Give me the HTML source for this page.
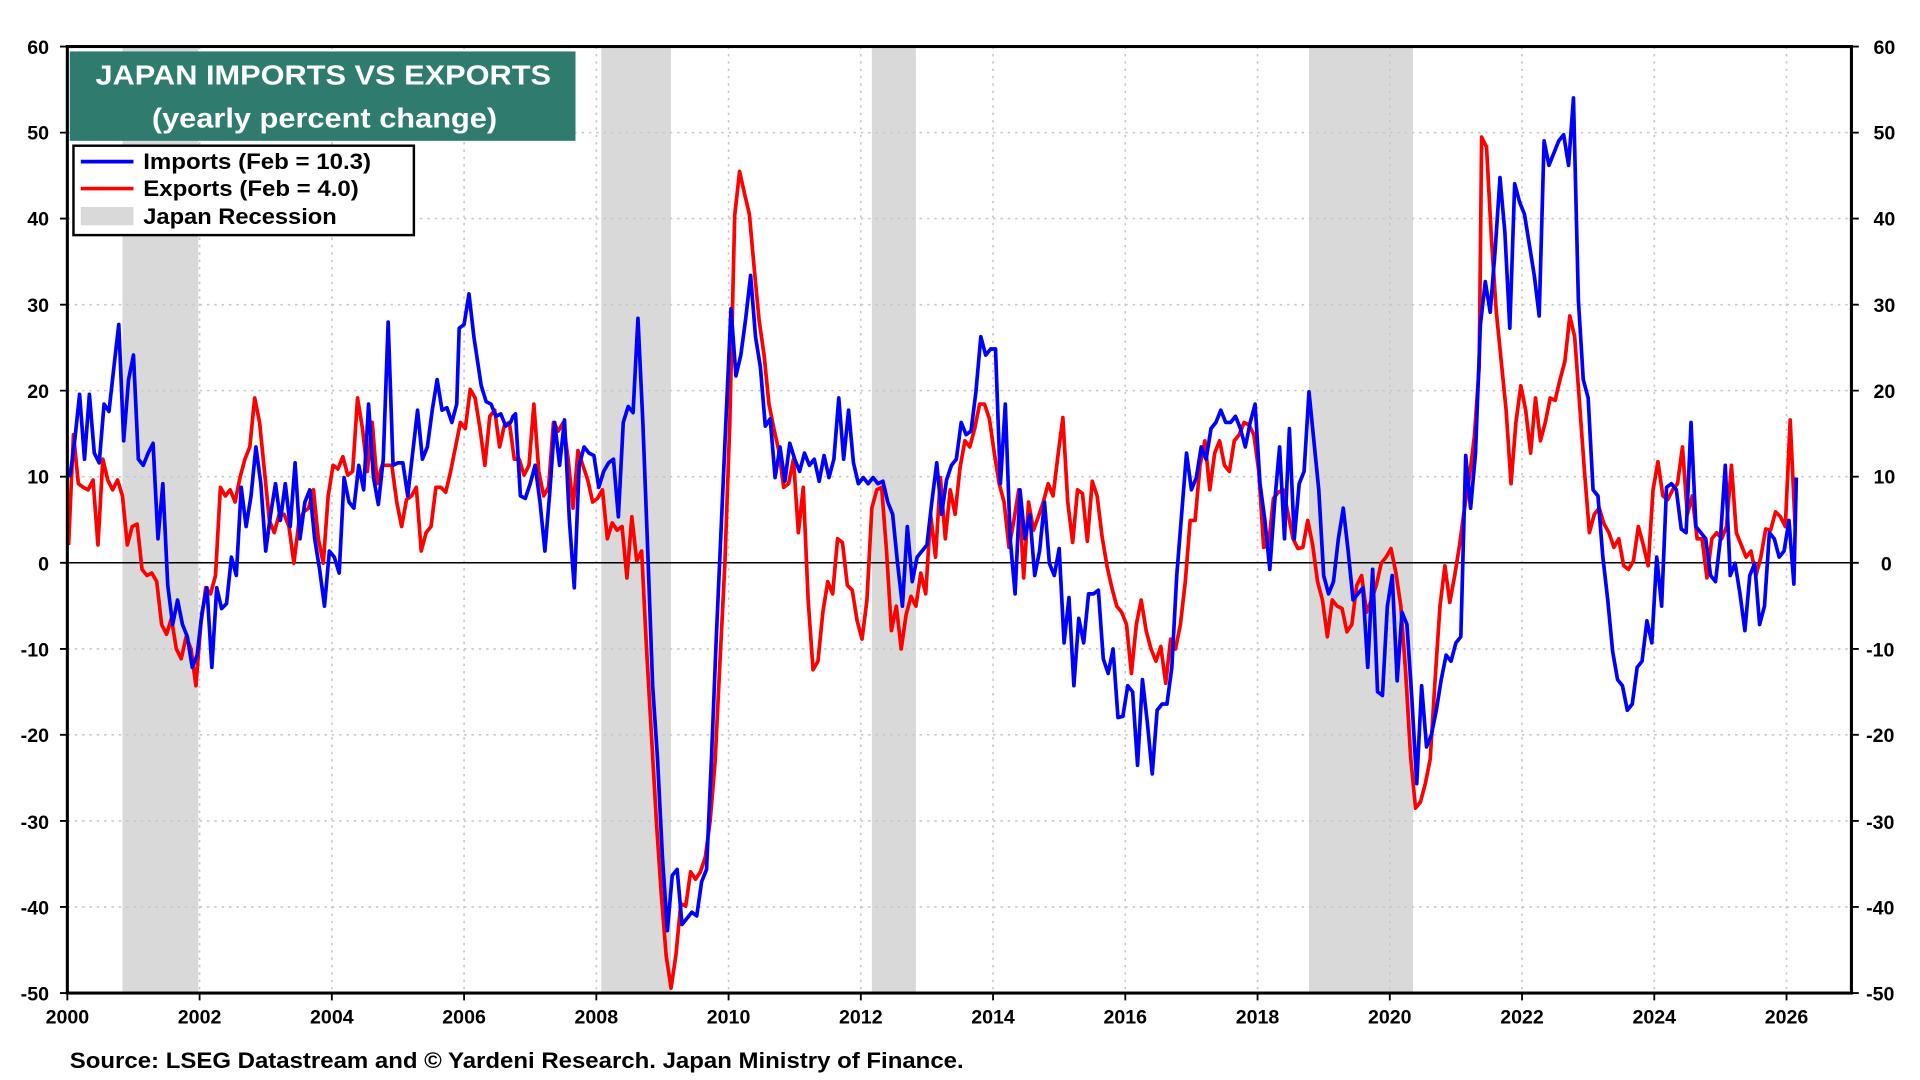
<!DOCTYPE html>
<html><head><meta charset="utf-8"><style>
html,body{margin:0;padding:0;background:#fff;width:1920px;height:1080px;overflow:hidden}
svg{display:block}
text{font-family:"Liberation Sans",Arial,sans-serif;font-weight:bold}
</style></head><body>
<svg width="1920" height="1080" viewBox="0 0 1568 882" preserveAspectRatio="none">
<rect x="0" y="0" width="1568" height="882" fill="#fff"/>
<g fill="#d9d9d9">
<rect x="100" y="38" width="62" height="773"/>
<rect x="491" y="38" width="57" height="773"/>
<rect x="712" y="38" width="36" height="773"/>
<rect x="1069" y="38" width="85" height="773"/>
</g>
<g stroke="#c8c8c8" stroke-width="1.3" stroke-dasharray="2,4">
<line x1="55" x2="1512" y1="108.3" y2="108.3"/><line x1="55" x2="1512" y1="178.5" y2="178.5"/>
<line x1="55" x2="1512" y1="248.8" y2="248.8"/><line x1="55" x2="1512" y1="319" y2="319"/>
<line x1="55" x2="1512" y1="389.3" y2="389.3"/><line x1="55" x2="1512" y1="530" y2="530"/>
<line x1="55" x2="1512" y1="600.1" y2="600.1"/><line x1="55" x2="1512" y1="670.4" y2="670.4"/>
<line x1="55" x2="1512" y1="740.7" y2="740.7"/>
<line x1="163" x2="163" y1="38" y2="811"/><line x1="271" x2="271" y1="38" y2="811"/>
<line x1="379" x2="379" y1="38" y2="811"/><line x1="487" x2="487" y1="38" y2="811"/>
<line x1="595" x2="595" y1="38" y2="811"/><line x1="703" x2="703" y1="38" y2="811"/>
<line x1="811" x2="811" y1="38" y2="811"/><line x1="919" x2="919" y1="38" y2="811"/>
<line x1="1027" x2="1027" y1="38" y2="811"/><line x1="1135" x2="1135" y1="38" y2="811"/>
<line x1="1243" x2="1243" y1="38" y2="811"/><line x1="1351" x2="1351" y1="38" y2="811"/>
<line x1="1459" x2="1459" y1="38" y2="811"/>
</g>
<line x1="55" x2="1512" y1="459.6" y2="459.6" stroke="#000" stroke-width="1.2"/>
<polyline fill="none" stroke="#ff0000" stroke-width="3" stroke-linejoin="round" points="56,445 60,355 64,395 68,398 72,400 76,392 80,445 84,375 88,392 92,400 96,392 100,405 104,445 108,430 112,428 116,465 120,470 124,468 128,475 132,510 136,518 140,505 144,530 148,538 152,520 156,530 160,560 164,510 168,480 172,485 176,470 180,398 184,405 188,400 192,410 196,390 200,375 204,365 208,325 212,345 216,385 220,425 224,435 228,420 232,420 236,430 240,460 244,427 248,418 252,415 256,400 260,440 264,460 268,405 272,380 276,383 280,373 284,388 288,385 292,325 296,350 300,385 304,345 308,395 312,380 316,380 320,380 324,410 328,430 332,408 336,405 340,398 344,450 348,435 352,430 356,398 360,398 364,402 368,385 372,365 376,345 380,350 384,318 388,325 392,350 396,380 400,340 404,335 408,365 412,347 416,345 420,375 424,375 428,388 432,380 436,330 440,385 444,405 448,398 452,345 456,352 460,345 464,375 468,415 472,368 476,380 480,392 484,410 488,407 492,400 496,440 500,427 504,433 508,430 512,472 516,422 520,458 524,450 528,530 532,600 536,670 540,730 544,780 548,807 552,780 556,738 560,740 564,712 568,718 572,712 576,700 580,670 584,622 588,540 592,460 596,345 600,176 604,140 608,158 612,175 616,220 620,262 624,290 628,330 632,350 636,368 640,398 644,395 648,375 652,435 656,398 660,490 664,547 668,540 672,500 676,475 680,485 684,440 688,443 692,478 696,482 700,507 704,522 708,490 712,415 716,400 720,398 724,450 728,515 732,495 736,530 740,502 744,487 748,495 752,468 756,485 760,420 764,455 768,390 772,440 776,400 780,420 784,382 788,360 792,365 796,350 800,330 804,330 808,342 812,370 816,395 820,410 824,447 828,425 832,400 836,472 840,410 844,433 848,422 852,410 856,395 860,405 864,372 868,341 872,410 876,443 880,400 884,403 888,442 892,393 896,405 900,438 904,462 908,480 912,495 916,500 920,510 924,550 928,510 932,490 936,515 940,530 944,540 948,528 952,558 956,522 960,530 964,510 968,475 972,425 976,425 980,380 984,360 988,400 992,370 996,360 1000,380 1004,385 1008,360 1012,355 1016,345 1020,347 1024,355 1028,385 1032,447 1036,445 1040,407 1044,402 1048,400 1052,420 1056,440 1060,448 1064,447 1068,425 1072,445 1076,475 1080,490 1084,520 1088,490 1092,495 1096,497 1100,516 1104,510 1108,478 1112,470 1116,500 1120,490 1124,478 1128,460 1132,455 1136,448 1140,468 1144,495 1148,550 1152,618 1156,660 1160,655 1164,640 1168,620 1172,555 1176,495 1180,462 1184,492 1188,470 1192,445 1196,415 1200,390 1204,357 1208,300 1210,112 1214,120 1218,195 1222,255 1226,295 1230,335 1234,395 1238,345 1242,315 1246,335 1250,370 1254,325 1258,360 1262,345 1266,325 1270,327 1274,310 1278,295 1282,258 1286,275 1290,330 1294,385 1298,435 1302,420 1306,415 1310,428 1314,435 1318,447 1322,440 1326,462 1330,465 1334,458 1338,430 1342,445 1346,462 1350,400 1354,377 1358,405 1362,408 1366,400 1370,395 1374,365 1378,420 1382,405 1386,440 1390,440 1394,472 1398,440 1402,435 1406,440 1410,430 1414,380 1418,435 1422,445 1426,455 1430,450 1434,470 1438,455 1442,432 1446,433 1450,418 1454,422 1458,430 1462,343 1466,430"/>
<polyline fill="none" stroke="#0000ff" stroke-width="3" stroke-linejoin="round" points="57,390 61,360 65,322 69,375 73,322 77,370 81,378 85,330 89,336 93,300 97,265 101,360 105,310 109,290 113,375 117,380 121,370 125,362 129,440 133,395 137,478 141,510 145,490 149,510 153,520 157,545 161,535 165,500 169,480 173,545 177,480 181,497 185,493 189,455 193,470 197,398 201,430 205,405 209,365 213,395 217,450 221,420 225,395 229,425 233,395 237,430 241,378 245,440 249,410 253,400 257,440 261,465 265,495 269,450 273,455 277,468 281,390 285,410 289,415 293,380 297,400 301,330 305,390 309,412 313,375 317,263 321,380 325,378 329,378 333,405 337,370 341,335 345,375 349,365 353,335 357,310 361,335 365,333 369,345 373,330 375,268 379,265 383,240 387,275 393,315 397,328 401,330 405,340 409,338 413,348 417,345 419,340 421,338 425,405 429,407 433,395 437,380 441,410 445,450 449,402 453,345 457,380 461,343 465,425 469,480 473,380 477,365 481,370 485,372 489,398 493,385 497,378 501,375 505,422 509,345 513,332 517,337 521,260 525,345 529,450 533,560 537,620 541,700 545,760 549,715 553,710 557,755 561,750 565,745 569,748 573,720 577,710 581,620 585,520 589,430 593,340 597,252 601,307 605,290 609,260 613,225 617,275 621,300 625,348 629,342 633,390 637,365 641,393 645,362 649,375 653,385 657,370 661,380 665,375 669,393 673,372 677,390 681,375 685,325 689,375 693,335 697,378 701,395 705,390 709,395 713,390 717,395 721,393 725,410 729,420 733,460 737,495 741,430 745,475 749,455 753,450 757,445 761,410 765,378 769,420 773,392 777,380 781,375 785,345 789,355 793,352 797,320 801,275 805,290 809,285 813,285 817,395 821,330 825,440 829,485 833,400 837,440 841,420 845,470 849,450 853,410 857,460 861,470 865,448 869,525 873,488 877,560 881,505 885,525 889,485 893,485 897,482 901,538 905,550 909,530 913,586 917,585 921,560 925,565 929,625 933,555 937,590 941,632 945,580 949,575 953,575 957,545 961,470 965,420 969,370 973,400 977,390 981,365 985,375 989,350 993,345 997,335 1001,345 1005,345 1009,340 1013,350 1017,365 1021,345 1025,330 1029,395 1033,425 1037,465 1041,410 1045,365 1049,440 1053,350 1057,440 1061,395 1065,385 1069,320 1073,360 1077,400 1081,470 1085,485 1089,475 1093,440 1097,415 1101,450 1105,490 1109,485 1113,480 1117,545 1121,465 1125,565 1129,568 1133,495 1137,470 1141,556 1145,500 1149,510 1153,570 1157,640 1161,560 1165,610 1169,600 1173,580 1177,555 1181,535 1185,540 1189,525 1193,520 1197,372 1201,415 1205,370 1209,265 1213,230 1217,255 1221,205 1225,145 1229,190 1233,268 1237,150 1241,165 1245,175 1249,200 1253,225 1257,258 1261,115 1265,135 1269,125 1273,115 1277,110 1281,135 1285,80 1289,245 1293,310 1297,325 1301,400 1305,405 1309,455 1313,490 1317,532 1321,555 1325,560 1329,580 1333,575 1337,545 1341,540 1345,507 1349,525 1353,455 1357,495 1361,398 1365,395 1369,400 1373,432 1377,435 1381,345 1385,430 1389,435 1393,440 1397,470 1401,475 1405,440 1409,380 1413,470 1417,460 1421,485 1425,515 1429,470 1433,460 1437,510 1441,495 1445,435 1449,440 1453,455 1457,450 1461,425 1465,477 1467,390"/>
<rect x="55" y="38" width="1457" height="773" fill="none" stroke="#000" stroke-width="2.5"/>
<!-- minor ticks -->
<g stroke="#000" stroke-width="1.5">
<path d="M49,38h6M49,108.3h6M49,178.5h6M49,248.8h6M49,319h6M49,389.3h6M49,459.6h6M49,530h6M49,600.1h6M49,670.4h6M49,740.7h6M49,811h6"/>
<path d="M1512,38h6M1512,108.3h6M1512,178.5h6M1512,248.8h6M1512,319h6M1512,389.3h6M1512,459.6h6M1512,530h6M1512,600.1h6M1512,670.4h6M1512,740.7h6M1512,811h6"/>
<path d="M55,811v6M163,811v6M271,811v6M379,811v6M487,811v6M595,811v6M703,811v6M811,811v6M919,811v6M1027,811v6M1135,811v6M1243,811v6M1351,811v6M1459,811v6"/>
</g>
<g font-size="16" text-anchor="end">
<text x="40" y="44">60</text><text x="40" y="114">50</text><text x="40" y="184">40</text><text x="40" y="255">30</text><text x="40" y="325">20</text><text x="40" y="395">10</text><text x="40" y="466">0</text><text x="40" y="536">-10</text><text x="40" y="606">-20</text><text x="40" y="677">-30</text><text x="40" y="747">-40</text><text x="40" y="817">-50</text>
</g>
<g font-size="16" text-anchor="start">
<text x="1530" y="44">60</text><text x="1530" y="114">50</text><text x="1530" y="184">40</text><text x="1530" y="255">30</text><text x="1530" y="325">20</text><text x="1530" y="395">10</text><text x="1536" y="466">0</text><text x="1524" y="536">-10</text><text x="1524" y="606">-20</text><text x="1524" y="677">-30</text><text x="1524" y="747">-40</text><text x="1524" y="817">-50</text>
</g>
<g font-size="16" text-anchor="middle">
<text x="55" y="836">2000</text><text x="163" y="836">2002</text><text x="271" y="836">2004</text><text x="379" y="836">2006</text><text x="487" y="836">2008</text><text x="595" y="836">2010</text><text x="703" y="836">2012</text><text x="811" y="836">2014</text><text x="919" y="836">2016</text><text x="1027" y="836">2018</text><text x="1135" y="836">2020</text><text x="1243" y="836">2022</text><text x="1351" y="836">2024</text><text x="1459" y="836">2026</text>
</g>
<rect x="57" y="42" width="413" height="73" fill="#2f7c6e"/>
<text x="78" y="69" font-size="23" fill="#fff" textLength="372" lengthAdjust="spacingAndGlyphs">JAPAN IMPORTS VS EXPORTS</text>
<text x="124" y="104" font-size="23" fill="#fff" textLength="282" lengthAdjust="spacingAndGlyphs">(yearly percent change)</text>
<rect x="60" y="119" width="278" height="73" fill="#fff" stroke="#000" stroke-width="2"/>
<line x1="66" x2="109" y1="132" y2="132" stroke="#0000ff" stroke-width="3"/>
<line x1="66" x2="109" y1="154" y2="154" stroke="#ff0000" stroke-width="3"/>
<rect x="66" y="169" width="43" height="15" fill="#d9d9d9"/>
<g font-size="18">
<text x="117" y="138" textLength="186" lengthAdjust="spacingAndGlyphs">Imports (Feb = 10.3)</text>
<text x="117" y="160" textLength="176" lengthAdjust="spacingAndGlyphs">Exports (Feb = 4.0)</text>
<text x="117" y="183" textLength="158" lengthAdjust="spacingAndGlyphs">Japan Recession</text></g>
<text x="57" y="872" font-size="18" textLength="730" lengthAdjust="spacingAndGlyphs">Source: LSEG Datastream and © Yardeni Research. Japan Ministry of Finance.</text>
</svg>
</body></html>
